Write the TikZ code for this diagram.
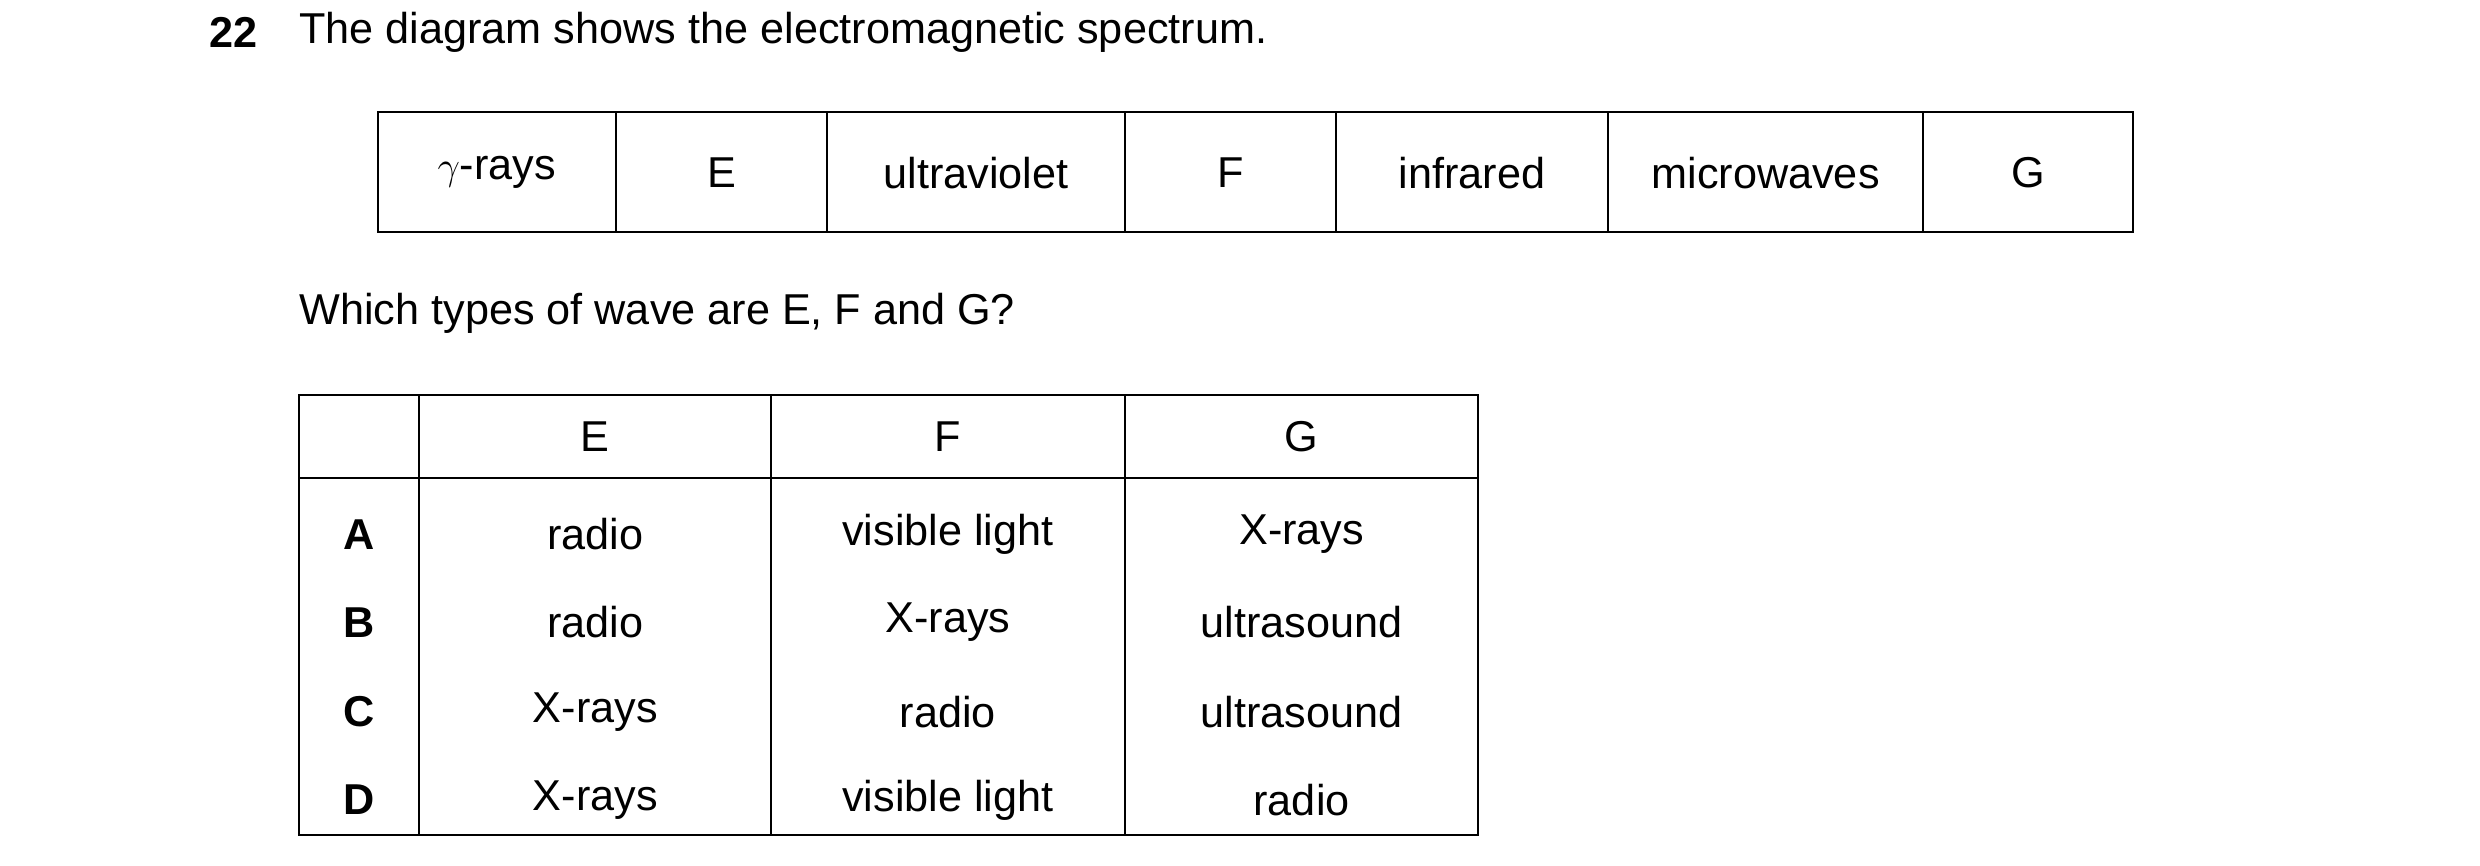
\documentclass[tikz,border=0pt]{standalone}
\usepackage{fontspec}
\setmainfont{Liberation Sans}
\usetikzlibrary{positioning}

\begin{document}
\begin{tikzpicture}[x=1pt,y=-1pt,
    txt/.style={font=\fontsize{27}{32}\selectfont, inner sep=0pt},
    bold/.style={txt, font=\fontsize{27}{32}\selectfont\bfseries},
    grid/.style={line width=1.3pt}]
\useasboundingbox (0,0) rectangle (1550,541);

% Heading
\node[bold, anchor=west] (num) at (131,20) {22};
\node[txt, anchor=west] (title) at (187,20) {The diagram shows the electromagnetic spectrum.};

% Spectrum strip
\draw[grid] (236,70) rectangle (1333,145);
\foreach \xv in {385,517,703,835,1005,1202}
  \draw[grid] (\xv,70) -- (\xv,145);
\node[txt] (gam) at (310.5,108) {$\gamma$-rays};
\node[txt] (e) at (451,108) {E};
\node[txt] (uv) at (610,108) {ultraviolet};
\node[txt] (f) at (769,108) {F};
\node[txt] (ir) at (920,108) {infrared};
\node[txt] (mw) at (1103.5,108) {microwaves};
\node[txt] (g) at (1267.5,108) {G};

% Question
\node[txt, anchor=west] (ask) at (187,196) {Which types of wave are E, F and G?};

% Answer table
\draw[grid] (187,247) rectangle (924,522);
\draw[grid] (187,299) -- (924,299);
\foreach \xv in {262,482,703}
  \draw[grid] (\xv,247) -- (\xv,522);
\node[txt] (he) at (372,273) {E};
\node[txt] (hf) at (592.5,273) {F};
\node[txt] (hg) at (813.5,273) {G};
\foreach \yv/\k/\a/\b/\c in {334/A/radio/visible light/X-rays,
                             389/B/radio/X-rays/ultrasound,
                             445/C/X-rays/radio/ultrasound,
                             500/D/X-rays/visible light/radio}{
  \node[bold] (k\k) at (224.5,\yv) {\k};
  \node[txt] (e\k) at (372,\yv) {\a};
  \node[txt] (f\k) at (592.5,\yv) {\b};
  \node[txt] (g\k) at (813.5,\yv) {\c};
}
\end{tikzpicture}
\end{document}
